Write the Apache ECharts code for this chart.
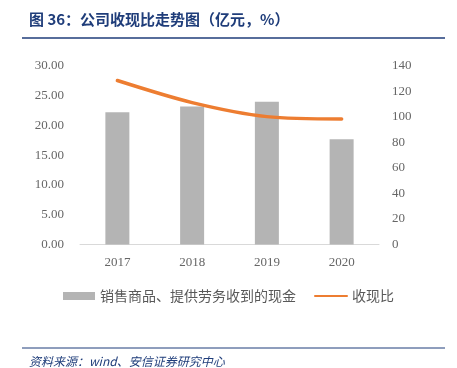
<!DOCTYPE html>
<html>
<head>
<meta charset="utf-8">
<script src="https://cdn.jsdelivr.net/npm/echarts@6/dist/echarts.min.js"></script>
<style>
  html, body { margin: 0; padding: 0; background: #fff; }
  #chart { width: 457px; height: 368px; }
</style>
</head>
<body>
<div id="chart"></div>
<script>
// 年份
const years = ['2017', '2018', '2019', '2020'];
// 销售商品、提供劳务收到的现金（亿元）
const cashReceived = [22.24, 23.19, 23.98, 17.70];
// 收现比（%）
const cashRatio = [128.6, 111.3, 100.3, 98.5];

const leftTicks = { min: 0, max: 30, interval: 5 };
const rightTicks = { min: 0, max: 140, interval: 20 };

const blue = '#1f3d7a';
const labelColor = '#666666';
const serif = '"Liberation Serif", "Times New Roman", serif';
const cjk = '"Noto Sans CJK SC", sans-serif';

let myChart = echarts.init(document.getElementById('chart'));
myChart.setOption({
  animation: false,
  title: [
    {
      text: '图 36：公司收现比走势图（亿元，%）',
      left: 24,
      top: 7,
      textStyle: { color: blue, fontSize: 15, fontWeight: 'bold', fontFamily: cjk }
    },
    {
      text: '资料来源：wind、安信证券研究中心',
      left: 24,
      top: 350,
      textStyle: { color: blue, fontSize: 12, fontWeight: 'normal', fontStyle: 'italic', fontFamily: cjk }
    }
  ],
  graphic: [
    { type: 'line', shape: { x1: 22, y1: 38, x2: 445, y2: 38 }, style: { stroke: blue, lineWidth: 1.5 } },
    { type: 'line', shape: { x1: 22, y1: 348, x2: 445, y2: 348 }, style: { stroke: blue, lineWidth: 1 } }
  ],
  legend: {
    top: 284,
    left: 'center',
    itemGap: 18,
    itemWidth: 32,
    itemHeight: 8,
    textStyle: { color: '#595959', fontSize: 14, fontFamily: cjk },
    data: [
      { name: '销售商品、提供劳务收到的现金', icon: 'rect' },
      { name: '收现比', itemStyle: { opacity: 0 } }
    ]
  },
  grid: { left: 80, right: 78, top: 66, bottom: 123.5 },
  xAxis: {
    type: 'category',
    data: years,
    axisLine: { lineStyle: { color: '#d9d9d9', width: 1 } },
    axisTick: { show: false },
    axisLabel: { color: labelColor, fontSize: 13, fontFamily: serif, margin: 12 }
  },
  yAxis: [
    {
      type: 'value',
      min: leftTicks.min, max: leftTicks.max, interval: leftTicks.interval,
      splitLine: { show: false },
      axisLine: { show: false },
      axisTick: { show: false },
      axisLabel: {
        color: labelColor, fontSize: 13, fontFamily: serif, margin: 16,
        formatter: v => v.toFixed(2)
      }
    },
    {
      type: 'value',
      min: rightTicks.min, max: rightTicks.max, interval: rightTicks.interval,
      splitLine: { show: false },
      axisLine: { show: false },
      axisTick: { show: false },
      axisLabel: { color: labelColor, fontSize: 13, fontFamily: serif, margin: 13 }
    }
  ],
  series: [
    {
      name: '销售商品、提供劳务收到的现金',
      type: 'bar',
      yAxisIndex: 0,
      barWidth: 24,
      itemStyle: { color: '#b4b4b4' },
      data: cashReceived
    },
    {
      name: '收现比',
      type: 'line',
      yAxisIndex: 1,
      smooth: 0.3,
      symbol: 'none',
      lineStyle: { color: '#ed7d31', width: 3.5, cap: 'round' },
      itemStyle: { color: '#ed7d31' },
      data: cashRatio
    }
  ]
});
</script>
</body>
</html>
